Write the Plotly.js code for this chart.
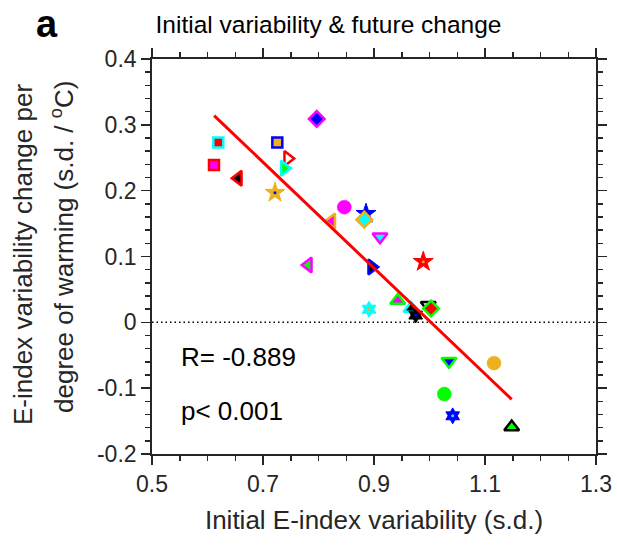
<!DOCTYPE html>
<html>
<head>
<meta charset="utf-8">
<script src="https://cdn.plot.ly/plotly-3.0.1.min.js"></script>
<style>html,body{margin:0;padding:0;background:#fff;}#chart{width:617px;height:545px;}</style>
</head>
<body>
<div id="chart"></div>
<script>
// ---- data ----
const xVals = [0.6195, 0.6117, 0.7258, 0.6555, 0.7445, 0.7384, 0.7216, 0.7968, 0.8465, 0.8238,
               0.8856, 0.8825, 0.9108, 0.7816, 0.8959, 0.9888, 0.8910, 0.9427, 0.9667, 0.9751,
               0.9978, 1.0027, 1.0351, 1.1162, 1.0267, 1.0418, 1.1481];
const yVals = [0.273, 0.239, 0.273, 0.219, 0.249, 0.234, 0.197, 0.309, 0.175, 0.154,
               0.165, 0.156, 0.130, 0.087, 0.084, 0.092, 0.020, 0.033, 0.021, 0.011,
               0.026, 0.021, -0.059, -0.062, -0.109, -0.142, -0.159];
const fitX = [0.612, 1.148];
const fitY = [0.314, -0.117];
const refX = [0.5, 1.3];
const refY = [0, 0];
const xTickVals = [0.5, 0.7, 0.9, 1.1, 1.3];
const xTickText = ['0.5', '0.7', '0.9', '1.1', '1.3'];
const yTickVals = [0.4, 0.3, 0.2, 0.1, 0, -0.1, -0.2];
const yTickText = ['0.4', '0.3', '0.2', '0.1', '0', '-0.1', '-0.2'];
const statR = 'R= -0.889';
const statP = 'p< 0.001';

// ---- styles ----
const OR = '#EDB120', MG = '#FF00FF', CY = '#00FFFF', LM = '#00FF00', BL = '#0000FF', RD = '#FF0000', BK = '#000000', WH = '#FFFFFF';
const symbols = ['square','square','square','triangle-left','triangle-right','triangle-right','star','diamond','circle','triangle-left',
                 'star','diamond','triangle-down','triangle-left','triangle-right','star','hexagram','triangle-up','triangle-up','hexagram',
                 'triangle-down','diamond','triangle-down','circle','circle','hexagram','triangle-up'];
const edgeColors = [CY, RD, BL, RD, RD, CY, OR, MG, MG, OR,
                    BL, OR, MG, MG, BL, RD, CY, LM, CY, BK,
                    BK, LM, LM, OR, LM, BL, BK];
const fillColors = [RD, MG, OR, BK, WH, LM, OR, BL, MG, MG,
                    BL, CY, CY, LM, BK, RD, CY, MG, BK, BK,
                    WH, RD, BL, OR, LM, BL, LM];
const symSize = {'square':10, 'triangle-left':13, 'triangle-right':13, 'triangle-up':13, 'triangle-down':13,
                 'diamond':12, 'circle':14, 'star':15, 'hexagram':12};
const symLine = {'square':2.5, 'triangle-left':2.5, 'triangle-right':2.5, 'triangle-up':2.5, 'triangle-down':2.5,
                 'diamond':2.5, 'circle':0.5, 'star':1, 'hexagram':1};
const dotIdx = [6, 15, 16, 19, 25];
const dotColors = [BL, OR, OR, BL, CY];

const FONT = 'Liberation Sans, Arial, Helvetica, sans-serif';
const AX = '#262626';

const traces = [
  { x: refX, y: refY, type: 'scatter', mode: 'lines', hoverinfo: 'skip',
    line: { color: BK, width: 1.5, dash: '1.5px,3px' } },
  { x: xVals, y: yVals, type: 'scatter', mode: 'markers',
    marker: { symbol: symbols, size: symbols.map(s => symSize[s]), color: fillColors,
              line: { color: edgeColors, width: symbols.map(s => symLine[s]) }, opacity: 1 } },
  { x: dotIdx.map(i => xVals[i]), y: dotIdx.map(i => yVals[i]), type: 'scatter', mode: 'markers',
    marker: { symbol: 'circle', size: 3, color: dotColors, line: { width: 0 } } },
  { x: fitX, y: fitY, type: 'scatter', mode: 'lines', line: { color: RD, width: 3 } }
];

const P = (px) => (px - 152) / 444;
const Q = (py) => (454 - py) / 395;

const axisCommon = {
  showline: true, linecolor: AX, linewidth: 1.8, mirror: 'ticks',
  ticks: 'outside', ticklen: 9, tickwidth: 1.5, tickcolor: AX,
  showgrid: false, zeroline: false, tickmode: 'array',
  tickfont: { family: FONT, size: 23, color: AX }
};

const layout = {
  width: 617, height: 545, autosize: false,
  margin: { l: 152, r: 21, t: 59, b: 91 },
  paper_bgcolor: '#fff', plot_bgcolor: '#fff',
  showlegend: false,
  font: { family: FONT, color: AX },
  title: { text: 'Initial variability & future change', font: { family: FONT, size: 24.5, color: '#000' },
           x: 328.5 / 617, xref: 'container', xanchor: 'center', y: 1 - 24 / 545, yref: 'container', yanchor: 'middle' },
  xaxis: Object.assign({}, axisCommon, {
    range: [0.5, 1.3], tickvals: xTickVals, ticktext: xTickText,
    minor: { tickmode: 'linear', tick0: 0.5, dtick: 0.05, ticks: 'outside', ticklen: 5, tickwidth: 1.5, tickcolor: AX, showgrid: false },
    title: { text: 'Initial E-index variability (s.d.)', font: { family: FONT, size: 26, color: AX }, standoff: 14 }
  }),
  yaxis: Object.assign({}, axisCommon, {
    range: [-0.2, 0.4], tickvals: yTickVals, ticktext: yTickText,
    minor: { tickmode: 'linear', tick0: -0.2, dtick: 0.02, ticks: 'outside', ticklen: 5, tickwidth: 1.5, tickcolor: AX, showgrid: false }
  }),
  annotations: [
    { text: 'E-index variability change per', xref: 'paper', yref: 'paper', x: P(23), y: Q(255),
      xanchor: 'center', yanchor: 'middle', textangle: -90, showarrow: false, font: { family: FONT, size: 26, color: AX } },
    { text: 'degree of warming (s.d. / <sup>o</sup>C)', xref: 'paper', yref: 'paper', x: P(62), y: Q(247),
      xanchor: 'center', yanchor: 'middle', textangle: -90, showarrow: false, font: { family: FONT, size: 26, color: AX } },
    { text: statR, xref: 'paper', yref: 'paper', x: P(179), y: Q(357), xanchor: 'left', yanchor: 'middle',
      showarrow: false, font: { family: FONT, size: 26, color: '#000' } },
    { text: statP, xref: 'paper', yref: 'paper', x: P(179), y: Q(411), xanchor: 'left', yanchor: 'middle',
      showarrow: false, font: { family: FONT, size: 26, color: '#000' } },
    { text: '<b>a</b>', xref: 'paper', yref: 'paper', x: P(47), y: Q(24), xanchor: 'center', yanchor: 'middle',
      showarrow: false, font: { family: FONT, size: 38, color: '#000' } }
  ]
};

Plotly.newPlot('chart', traces, layout, { displayModeBar: false, staticPlot: true });
</script>
</body>
</html>
